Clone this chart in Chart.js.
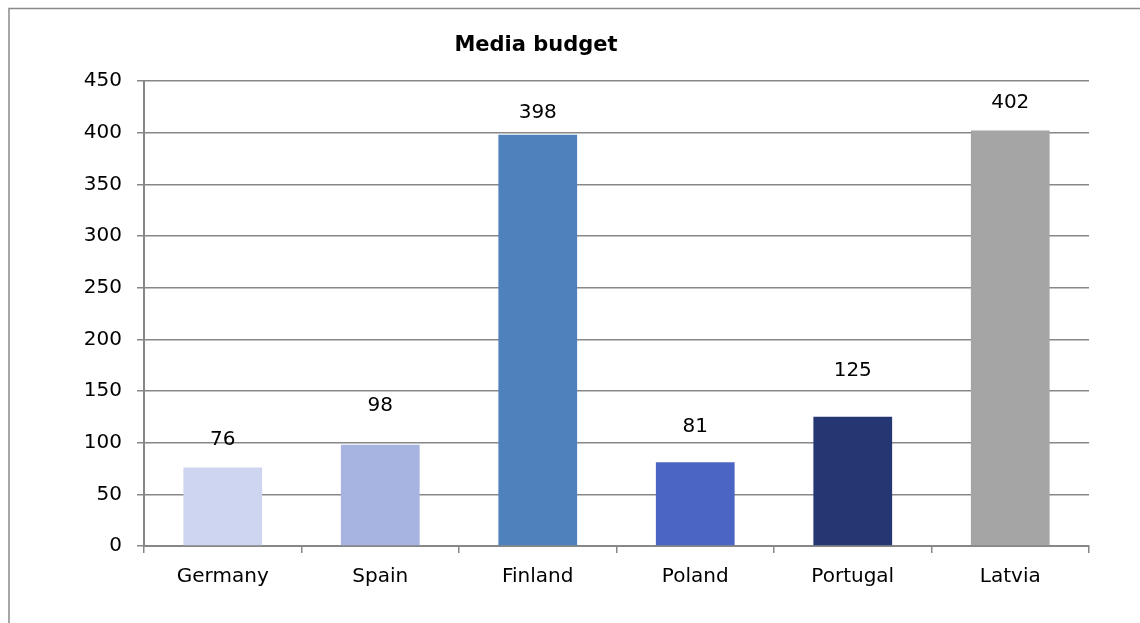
<!DOCTYPE html>
<html>
<head>
<meta charset="utf-8">
<title>Media budget</title>
<script src="https://cdn.jsdelivr.net/npm/chart.js@4/dist/chart.umd.min.js"></script>
<style>
  html, body { margin: 0; padding: 0; background: #fff; }
  #wrap { width: 1140px; height: 623px; position: relative; }
</style>
</head>
<body>
<div id="wrap"><canvas id="budgetChart" width="1140" height="623"></canvas></div>
<script>
const countries = ['Germany', 'Spain', 'Finland', 'Poland', 'Portugal', 'Latvia'];
const budget = [76, 98, 398, 81, 125, 402];
const barColors = ['#CDD5F0', '#A7B3E0', '#4F81BD', '#4A65C4', '#253773', '#A5A5A5'];
// how far above the bar top each value label sits (px)
const labelLift = [28, 39, 22, 36, 46, 28];

const FONT = '"DejaVu Sans", Verdana, sans-serif';
const GRID = '#878787';

// frame, title and value labels
const decorations = {
    id: 'decorations',
    afterDraw(chart) {
        const ctx = chart.ctx;
        ctx.save();
        ctx.strokeStyle = '#8a8a8a';
        ctx.lineWidth = 1.5;
        ctx.beginPath();
        ctx.moveTo(9, 623);
        ctx.lineTo(9, 8.5);
        ctx.lineTo(1140, 8.5);
        ctx.stroke();

        ctx.fillStyle = '#000';
        ctx.textAlign = 'center';
        ctx.textBaseline = 'middle';
        ctx.font = 'bold 21px ' + FONT;
        ctx.fillText('Media budget', 536, 46);

        ctx.font = '20px ' + FONT;
        const meta = chart.getDatasetMeta(0);
        meta.data.forEach((bar, i) => {
            ctx.fillText(String(budget[i]), bar.x, bar.y - labelLift[i]);
        });
        ctx.restore();
    }
};

const ctx = document.getElementById('budgetChart').getContext('2d');
const chart = new Chart(ctx, {
    type: 'bar',
    data: {
        labels: countries,
        datasets: [{
            data: budget,
            backgroundColor: barColors,
            borderWidth: 0,
            barPercentage: 0.5,
            categoryPercentage: 1.0
        }]
    },
    options: {
        responsive: false,
        animation: false,
        layout: { padding: { left: 0, right: 51, top: 81, bottom: 0 } },
        plugins: {
            legend: { display: false },
            tooltip: { enabled: false }
        },
        scales: {
            x: {
                offset: true,
                grid: {
                    offset: true,
                    drawOnChartArea: false,
                    drawTicks: true,
                    tickLength: 7,
                    color: GRID,
                    lineWidth: 1.5
                },
                border: { display: true, color: GRID, width: 2 },
                ticks: {
                    color: '#000',
                    font: { family: FONT, size: 20 },
                    padding: 12,
                    maxRotation: 0
                },
                afterFit(scale) { scale.height = 77; }
            },
            y: {
                min: 0,
                max: 450,
                ticks: {
                    stepSize: 50,
                    color: '#000',
                    font: { family: FONT, size: 20 },
                    padding: 15
                },
                grid: {
                    color: GRID,
                    lineWidth: 1.5,
                    drawTicks: true,
                    tickLength: 7
                },
                border: { display: true, color: GRID, width: 2 },
                afterFit(scale) { scale.width = 144; }
            }
        }
    },
    plugins: [decorations]
});
</script>
</body>
</html>
